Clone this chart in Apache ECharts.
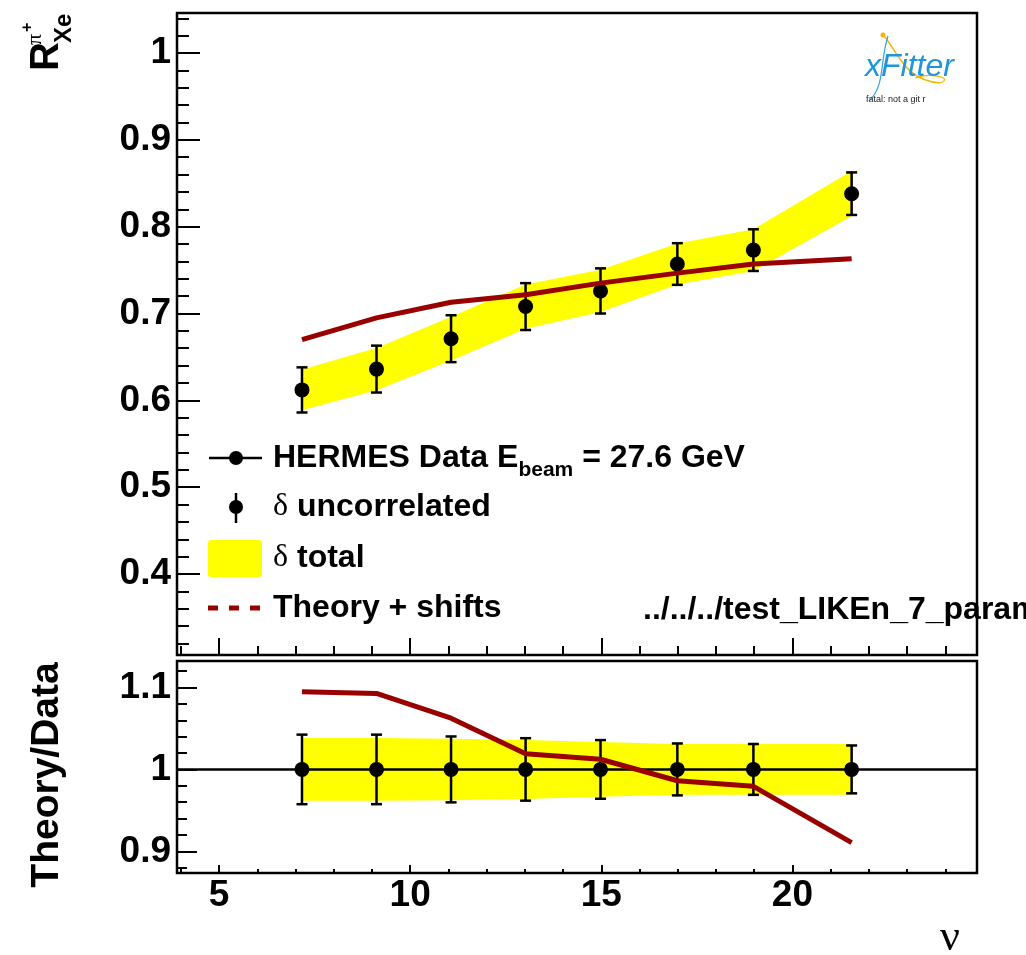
<!DOCTYPE html>
<html><head><meta charset="utf-8">
<script src="https://cdn.jsdelivr.net/npm/echarts@6/dist/echarts.min.js"></script>
<style>html,body{margin:0;padding:0;background:#fff}#c{width:1026px;height:955px}</style>
</head><body><div id="c"></div><script>
// ---------------- data ----------------
const nu = [7.17, 9.12, 11.07, 13.02, 14.98, 16.99, 18.98, 21.55];
const rData = [0.612, 0.636, 0.671, 0.708, 0.726, 0.757, 0.773, 0.838];
const errUncorr = [0.026, 0.027, 0.027, 0.027, 0.026, 0.024, 0.024, 0.0245];
const errTotal = [0.0235, 0.0244, 0.0252, 0.0255, 0.0243, 0.0235, 0.024, 0.026];
const theory = [0.670, 0.695, 0.713, 0.7215, 0.735, 0.7465, 0.757, 0.763];
const xTickLabels = [5, 10, 15, 20];
const yTopTickLabels = [0.4, 0.5, 0.6, 0.7, 0.8, 0.9, 1];
const yBotTickLabels = [0.9, 1, 1.1];

// ---------------- helpers ----------------
const FONT = '"Liberation Sans", Arial, Helvetica, sans-serif';
const SERIF = '"Liberation Serif", "DejaVu Serif", serif';
const mctx = document.createElement('canvas').getContext('2d');
function tw(text, font) { mctx.font = font; return mctx.measureText(text).width; }
function minorTicks(from, to, step, majors) {
  const out = [];
  const n = Math.round((to - from) / step);
  for (let i = 0; i <= n; i++) {
    const v = +(from + i * step).toFixed(4);
    if (!majors.some(m => Math.abs(m - v) < 1e-6)) out.push(v);
  }
  return out;
}
const xMinor = minorTicks(4, 24, 1, xTickLabels);
const yTopMinor = minorTicks(0.32, 1.04, 0.02, yTopTickLabels);
const yBotMinor = minorTicks(0.88, 1.12, 0.02, yBotTickLabels);

const RED = '#990000';
const YEL = '#ffff00';
const n = nu.length;

const topLo = rData.map((v, i) => v - errTotal[i]);
const topHi = rData.map((v, i) => v + errTotal[i]);
const ratio = theory.map((t, i) => t / rData[i]);
const relTot = errTotal.map((e, i) => e / rData[i]);
const relUnc = errUncorr.map((e, i) => e / rData[i]);
const botLo = relTot.map(e => 1 - e);
const botHi = relTot.map(e => 1 + e);

function bandSeries(xi, yi, lo, hi) {
  return {
    type: 'custom', xAxisIndex: xi, yAxisIndex: yi, z: 1, silent: true,
    data: nu.map((x, i) => [x, lo[i], hi[i]]),
    encode: { x: 0, y: [1, 2] },
    renderItem: (params, api) => {
      if (params.dataIndex !== 0) return null;
      const up = [], dn = [];
      for (let i = 0; i < n; i++) { up.push(api.coord([nu[i], hi[i]])); dn.push(api.coord([nu[i], lo[i]])); }
      return { type: 'polygon', shape: { points: up.concat(dn.reverse()) }, style: { fill: YEL, stroke: null } };
    }
  };
}
function errSeries(xi, yi, data, extra) {
  return Object.assign({
    type: 'custom', xAxisIndex: xi, yAxisIndex: yi, z: 3, silent: true,
    data: data, encode: { x: 0, y: [1, 2] },
    renderItem: (params, api) => {
      const x = api.value(0);
      const p1 = api.coord([x, api.value(1)]), p2 = api.coord([x, api.value(2)]);
      const cw = 5.5, st = { stroke: '#000', lineWidth: 2.5 };
      return { type: 'group', children: [
        { type: 'line', shape: { x1: p1[0], y1: p1[1], x2: p2[0], y2: p2[1] }, style: st },
        { type: 'line', shape: { x1: p1[0] - cw, y1: p1[1], x2: p1[0] + cw, y2: p1[1] }, style: st },
        { type: 'line', shape: { x1: p2[0] - cw, y1: p2[1], x2: p2[0] + cw, y2: p2[1] }, style: st }
      ] };
    }
  }, extra || {});
}
function xAx(grid, values, len, labels) {
  return {
    type: 'value', gridIndex: grid, min: 3.9, max: 24.83, position: 'bottom',
    axisLine: { show: false }, splitLine: { show: false },
    axisTick: { show: true, inside: true, length: len, customValues: values, lineStyle: { color: '#000', width: 2 } },
    axisLabel: labels ? { show: true, customValues: values, margin: 4, color: '#000', fontFamily: FONT, fontWeight: 'bold', fontSize: 37 } : { show: false }
  };
}
function yAx(grid, min, max, values, len, labels) {
  return {
    type: 'value', gridIndex: grid, min: min, max: max, position: 'left',
    axisLine: { show: false }, splitLine: { show: false },
    axisTick: { show: true, inside: true, length: len, customValues: values, lineStyle: { color: '#000', width: 2 } },
    axisLabel: labels ? { show: true, customValues: values, margin: 6, color: '#000', fontFamily: FONT, fontWeight: 'bold', fontSize: 37,
      formatter: v => String(+v.toFixed(2)) } : { show: false }
  };
}

// ---------------- chart ----------------
const chart = echarts.init(document.getElementById('c'), null, { renderer: 'canvas', width: 1026, height: 955 });

const LF = 'bold 32px ' + FONT;
const SUBF = 'bold 21px ' + FONT;
const DF = '32px ' + SERIF;
const tx = 273;
const w1 = tw('HERMES Data E', LF), w2 = tw('beam', SUBF), wd = tw('δ', DF);

const option = {
  animation: false,
  backgroundColor: '#fff',
  grid: [
    { left: 177, top: 13, width: 800, height: 642, show: true, borderColor: '#000', borderWidth: 2.5, backgroundColor: 'transparent' },
    { left: 177, top: 661, width: 800, height: 212, show: true, borderColor: '#000', borderWidth: 2.5, backgroundColor: 'transparent' }
  ],
  xAxis: [
    xAx(0, xTickLabels, 17, false),
    xAx(0, xMinor, 9, false),
    xAx(1, xTickLabels, 8, true),
    xAx(1, xMinor, 4, false)
  ],
  yAxis: [
    yAx(0, 0.3067, 1.0461, yTopTickLabels, 23, true),
    yAx(0, 0.3067, 1.0461, yTopMinor, 12, false),
    yAx(1, 0.8735, 1.1324, yBotTickLabels, 20, true),
    yAx(1, 0.8735, 1.1324, yBotMinor, 10, false)
  ],
  series: [
    // top panel
    bandSeries(0, 0, topLo, topHi),
    errSeries(0, 0, nu.map((x, i) => [x, rData[i] - errUncorr[i], rData[i] + errUncorr[i]])),
    { type: 'scatter', xAxisIndex: 0, yAxisIndex: 0, z: 4, symbol: 'circle', symbolSize: 15, silent: true,
      itemStyle: { color: '#000', opacity: 1 }, data: nu.map((x, i) => [x, rData[i]]) },
    { type: 'line', xAxisIndex: 0, yAxisIndex: 0, z: 5, showSymbol: false, silent: true,
      lineStyle: { color: RED, width: 5 }, data: nu.map((x, i) => [x, theory[i]]) },
    // bottom panel
    bandSeries(2, 2, botLo, botHi),
    errSeries(2, 2, nu.map((x, i) => [x, 1 - relUnc[i], 1 + relUnc[i]]), {
      markLine: { silent: true, symbol: 'none', label: { show: false }, animation: false,
        lineStyle: { color: '#000', width: 2.5, type: 'solid' }, data: [{ yAxis: 1 }] }
    }),
    { type: 'scatter', xAxisIndex: 2, yAxisIndex: 2, z: 4, symbol: 'circle', symbolSize: 15, silent: true,
      itemStyle: { color: '#000', opacity: 1 }, data: nu.map(x => [x, 1]) },
    { type: 'line', xAxisIndex: 2, yAxisIndex: 2, z: 5, showSymbol: false, silent: true,
      lineStyle: { color: RED, width: 5 }, data: nu.map((x, i) => [x, ratio[i]]) }
  ],
  graphic: [
    // y title top
    { type: 'group', x: 47, y: 71, rotation: Math.PI / 2, children: [
      { type: 'text', x: 0, y: 0, style: { text: 'R', font: 'bold 40px ' + FONT, fill: '#000', align: 'left', verticalAlign: 'middle' } },
      { type: 'text', x: 28, y: 17.5, style: { text: 'Xe', font: 'bold 24px ' + FONT, fill: '#000', align: 'left', verticalAlign: 'middle' } },
      { type: 'text', x: 26, y: -11.5, style: { text: 'π', font: '22px ' + SERIF, fill: '#000', align: 'left', verticalAlign: 'middle' } },
      { type: 'text', x: 39, y: -19, style: { text: '+', font: 'bold 16px ' + FONT, fill: '#000', align: 'left', verticalAlign: 'middle' } }
    ] },
    // y title bottom
    { type: 'text', x: 47, y: 775, rotation: Math.PI / 2, style: { text: 'Theory/Data', font: 'bold 39px ' + FONT, fill: '#000', align: 'center', verticalAlign: 'middle' } },
    // x title
    { type: 'text', x: 950, y: 938, style: { text: 'ν', font: '44px ' + SERIF, fill: '#000', align: 'center', verticalAlign: 'middle' } },
    // legend
    { type: 'line', shape: { x1: 209, y1: 458, x2: 262, y2: 458 }, style: { stroke: '#000', lineWidth: 2.5 } },
    { type: 'circle', shape: { cx: 236, cy: 458, r: 7 }, style: { fill: '#000' } },
    { type: 'text', x: tx, y: 458, style: { text: 'HERMES Data E', font: LF, fill: '#000', verticalAlign: 'middle' } },
    { type: 'text', x: tx + w1, y: 470, style: { text: 'beam', font: SUBF, fill: '#000', verticalAlign: 'middle' } },
    { type: 'text', x: tx + w1 + w2, y: 458, style: { text: ' = 27.6 GeV', font: LF, fill: '#000', verticalAlign: 'middle' } },
    { type: 'line', shape: { x1: 236, y1: 493, x2: 236, y2: 523 }, style: { stroke: '#000', lineWidth: 2.5 } },
    { type: 'circle', shape: { cx: 236, cy: 507, r: 7 }, style: { fill: '#000' } },
    { type: 'text', x: tx, y: 507, style: { text: 'δ', font: DF, fill: '#000', verticalAlign: 'middle' } },
    { type: 'text', x: tx + wd, y: 507, style: { text: ' uncorrelated', font: LF, fill: '#000', verticalAlign: 'middle' } },
    { type: 'rect', shape: { x: 208, y: 540, width: 54, height: 37, r: 3 }, style: { fill: YEL } },
    { type: 'text', x: tx, y: 558, style: { text: 'δ', font: DF, fill: '#000', verticalAlign: 'middle' } },
    { type: 'text', x: tx + wd, y: 558, style: { text: ' total', font: LF, fill: '#000', verticalAlign: 'middle' } },
    { type: 'line', shape: { x1: 208, y1: 608, x2: 263, y2: 608 }, style: { stroke: RED, lineWidth: 5, lineDash: [10, 11] } },
    { type: 'text', x: tx, y: 608, style: { text: 'Theory + shifts', font: LF, fill: '#000', verticalAlign: 'middle' } },
    { type: 'text', x: 643, y: 610, style: { text: '../../../test_LIKEn_7_param', font: LF, fill: '#000', verticalAlign: 'middle' } },
    // xFitter logo
    { type: 'bezierCurve', shape: { x1: 884, y1: 36, cpx1: 900, cpy1: 55, cpx2: 905, cpy2: 80, x2: 940, y2: 83 }, style: { stroke: '#f4b400', lineWidth: 1.5, fill: null } },
    { type: 'bezierCurve', shape: { x1: 940, y1: 83, cpx1: 955, cpy1: 78, cpx2: 930, cpy2: 72, x2: 915, y2: 78 }, style: { stroke: '#f4b400', lineWidth: 1.2, fill: null } },
    { type: 'bezierCurve', shape: { x1: 888, y1: 36, cpx1: 880, cpy1: 60, cpx2: 885, cpy2: 85, x2: 870, y2: 100 }, style: { stroke: '#3aa0e0', lineWidth: 1.2, fill: null } },
    { type: 'circle', shape: { cx: 883, cy: 35, r: 2.5 }, style: { fill: '#f4b400' } },
    { type: 'text', x: 865, y: 67, style: { text: 'xFitter', font: 'italic 32px ' + FONT, fill: '#1f96dc', verticalAlign: 'middle' } },
    { type: 'text', x: 866, y: 100, style: { text: 'fatal: not a git r', font: '9px ' + FONT, fill: '#222', verticalAlign: 'middle' } }
  ]
};
chart.setOption(option);
</script></body></html>
